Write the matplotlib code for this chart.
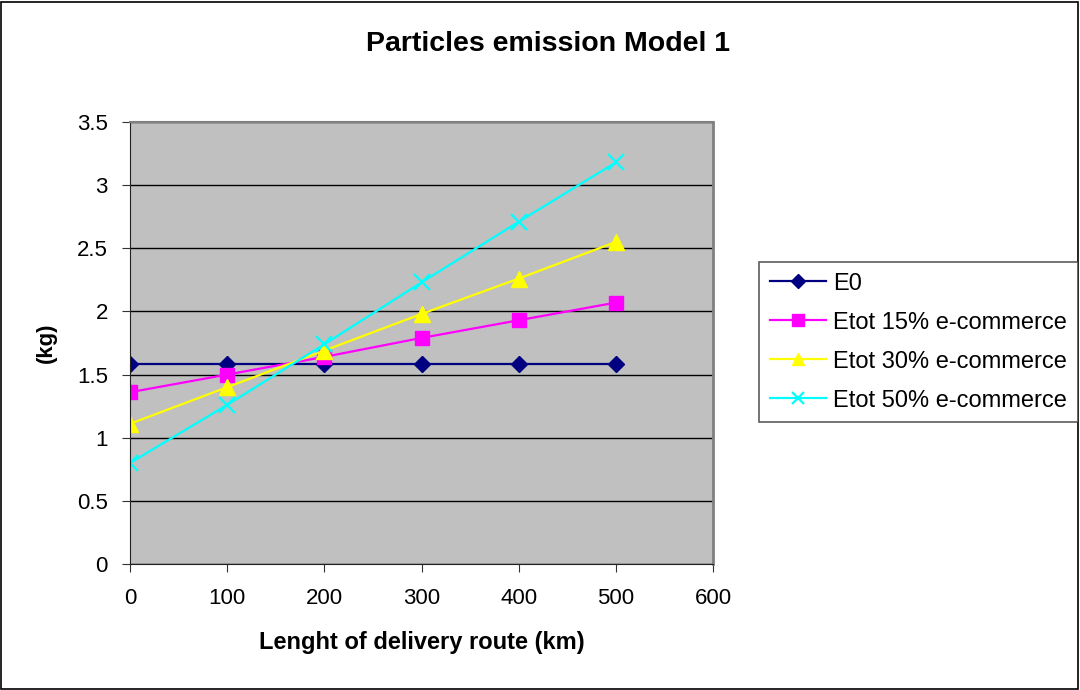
import matplotlib.pyplot as plt
from matplotlib.patches import Rectangle

routeKm = [0, 100, 200, 300, 400, 500]
e0 = [1.58, 1.58, 1.58, 1.58, 1.58, 1.58]
etot15 = [1.36, 1.50, 1.64, 1.79, 1.93, 2.07]
etot30 = [1.11, 1.40, 1.69, 1.98, 2.26, 2.55]
etot50 = [0.80, 1.26, 1.74, 2.23, 2.71, 3.18]
seriesNames = ['E0', 'Etot 15% e-commerce', 'Etot 30% e-commerce', 'Etot 50% e-commerce']

plt.rcParams['font.family'] = ['Liberation Sans', 'DejaVu Sans']

fig = plt.figure(figsize=(10.8, 6.9), dpi=100)
fig.patches.append(Rectangle((0.001, 0.002), 0.997, 0.995, transform=fig.transFigure,
                             fill=False, edgecolor='black', linewidth=1.2))

ax = fig.add_axes([130/1080, 1-564/690, (713-130)/1080, (564-122)/690])
ax.set_facecolor('#C0C0C0')

ax.plot(routeKm, e0, color='#000080', marker='D', markersize=8.5, linewidth=1.6, label=seriesNames[0])
ax.plot(routeKm, etot15, color='#FF00FF', marker='s', markersize=10, linewidth=1.6, label=seriesNames[1])
ax.plot(routeKm, etot30, color='#FFFF00', marker='^', markersize=11, linewidth=1.6, label=seriesNames[2])
ax.plot(routeKm, etot50, color='#00FFFF', marker='x', markersize=11, markeredgewidth=1.6,
        linewidth=1.6, label=seriesNames[3])

ax.set_xlim(0, 600)
ax.set_ylim(0, 3.5)
ax.set_xticks(range(0, 601, 100))
ax.set_yticks([0, 0.5, 1, 1.5, 2, 2.5, 3, 3.5])
ax.set_yticklabels(['0', '0.5', '1', '1.5', '2', '2.5', '3', '3.5'])
ax.yaxis.grid(True, color='black', linewidth=1)
ax.set_axisbelow(True)
ax.tick_params(axis='both', labelsize=16, direction='out', length=6, color='#333333')
ax.tick_params(axis='x', pad=11)
ax.tick_params(axis='y', pad=10)

ax.spines['left'].set_color('#222222')
ax.spines['bottom'].set_color('#222222')
ax.spines['top'].set_color('#808080')
ax.spines['right'].set_color('#808080')
ax.spines['top'].set_linewidth(1.5)
ax.spines['right'].set_linewidth(2)

ax.set_xlabel('Lenght of delivery route (km)', fontsize=17, fontweight='bold', labelpad=16)
ax.set_ylabel('(kg)', fontsize=16, fontweight='bold', labelpad=14)
fig.text(548/1080, 1-44/690, 'Particles emission Model 1', fontsize=20.5, fontweight='bold',
         ha='center', va='center')

leg = fig.legend(loc='upper left', bbox_to_anchor=(759/1080, 1-262/690), fontsize=17,
                 frameon=True, fancybox=False, edgecolor='#333333', handlelength=2.4,
                 handletextpad=0.3, borderpad=0.45, labelspacing=0.72, borderaxespad=0,
                 markerscale=0.8)
leg.get_frame().set_linewidth(1.2)

fig.savefig('out.png', dpi=100)
